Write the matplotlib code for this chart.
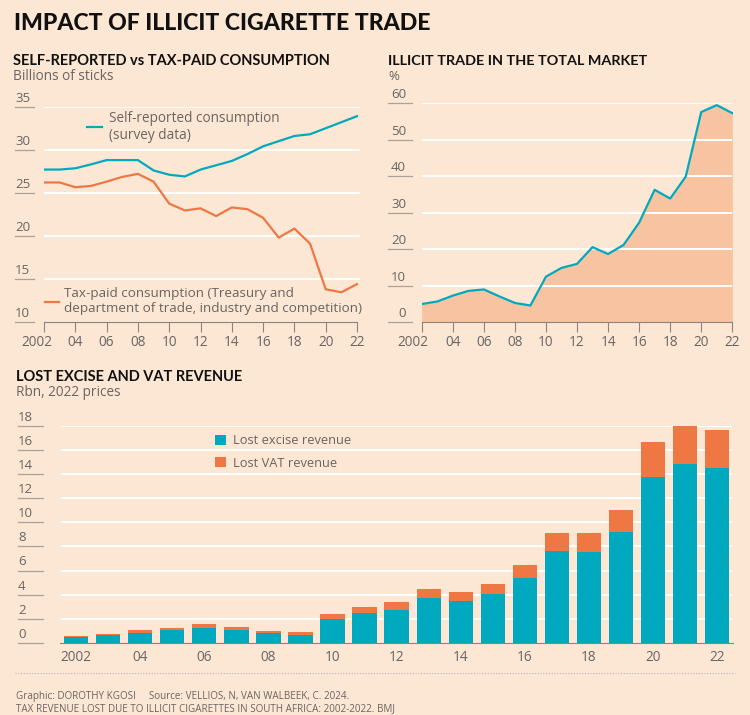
import numpy as np
import matplotlib
matplotlib.use("Agg")
import matplotlib.pyplot as plt
from matplotlib import transforms
from matplotlib.lines import Line2D

plt.rcParams['font.family'] = ['Open Sans', 'DejaVu Sans']

# Data
years = list(range(2002, 2023))
self_reported = [27.7, 27.7, 27.85, 28.3, 28.8, 28.8, 28.8, 27.6, 27.1, 26.9, 27.7,
                 28.2, 28.7, 29.5, 30.4, 31.0, 31.6, 31.8, 32.5, 33.2, 33.9]
tax_paid = [26.2, 26.2, 25.65, 25.8, 26.3, 26.85, 27.2, 26.3, 23.75, 22.95, 23.2,
            22.3, 23.3, 23.1, 22.1, 19.8, 20.85, 19.1, 13.8, 13.45, 14.4]
illicit_share = [5.0, 5.7, 7.3, 8.6, 9.0, 7.1, 5.3, 4.6, 12.5, 14.9, 16.0,
                 20.6, 18.7, 21.2, 27.3, 36.3, 33.9, 39.9, 57.6, 59.5, 57.3]
lost_excise = [0.47, 0.64, 0.86, 1.1, 1.27, 1.1, 0.8, 0.69, 2.0, 2.49, 2.76,
               3.7, 3.5, 4.09, 5.41, 7.65, 7.54, 9.2, 13.78, 14.86, 14.53]
lost_vat = [0.11, 0.08, 0.22, 0.17, 0.30, 0.23, 0.2, 0.19, 0.4, 0.49, 0.64,
            0.78, 0.7, 0.8, 1.08, 1.49, 1.6, 1.82, 2.85, 3.12, 3.12]

xtick_years = list(range(2002, 2023, 2))
xtick_labels = ["2002"] + [f"{y % 100:02d}" for y in xtick_years[1:]]
yticks_left = [10, 15, 20, 25, 30, 35]
yticks_right = [0, 10, 20, 30, 40, 50, 60]
yticks_bottom = list(range(0, 19, 2))

BG = "#FCE7D5"
TEAL = "#00A9BE"
ORANGE = "#EE7743"
AREA = "#F8C3A0"
GREY = "#8a8480"
TXT = "#6a6460"
DARK = "#111111"
HEAD = ['Lato', 'DejaVu Sans']

W, H = 750, 715
fig = plt.figure(figsize=(W / 100, H / 100), dpi=100, facecolor=BG)


def px_axes(left, top, right, bottom):
    ax = fig.add_axes([left / W, 1 - bottom / H, (right - left) / W, (bottom - top) / H])
    ax.set_facecolor(BG)
    for s in ax.spines.values():
        s.set_visible(False)
    return ax


def y_labels(ax, ticks, x0, x1, ha="left", xt=None):
    # tick labels sitting on short grey underlines left of the plot
    trans = transforms.blended_transform_factory(fig.transFigure, ax.transData)
    for v in ticks:
        ax.add_line(Line2D([x0 / W, x1 / W], [v, v], transform=trans, color="#a8a29d",
                           lw=0.9, clip_on=False))
        tx = (x0 if ha == "left" else xt) / W
        ax.annotate(str(v), xy=(tx, v), xycoords=trans, xytext=(0, 1.5),
                    textcoords="offset points", ha=ha, va="bottom", fontsize=9.5,
                    color=TXT)
    ax.set_yticks([])


def shift_first_label(ax, dx_px):
    lbl = ax.get_xticklabels()[0]
    lbl.set_transform(lbl.get_transform() +
                      transforms.ScaledTranslation(dx_px / 100, 0, fig.dpi_scale_trans))


# ---- title
fig.text(14 / W, 1 - 24 / H, "IMPACT OF ILLICIT CIGARETTE TRADE", fontsize=16.6,
         fontweight="black", color=DARK, va="center", ha="left", family=HEAD)

# ---- top left: self-reported vs tax-paid
ax1 = px_axes(44, 106.7, 360, 322)
step1 = (357.3 - 44.3) / 20
ax1.set_xlim(2002, 2002 + 316 / step1)
ax1.set_ylim(10, 35)
for v in yticks_left[1:]:
    ax1.axhline(v, color="white", lw=1.4, zorder=1)
ax1.spines["bottom"].set_visible(True)
ax1.spines["bottom"].set_color(GREY)
ax1.spines["bottom"].set_bounds(2002, 2022)
ax1.plot(years, self_reported, color=TEAL, lw=1.6, zorder=3)
ax1.plot(years, tax_paid, color=ORANGE, lw=1.6, zorder=3)
ax1.set_xticks(xtick_years)
ax1.set_xticklabels(xtick_labels)
ax1.tick_params(axis="x", length=7, color=GREY, labelsize=9.8, labelcolor=TXT, pad=2.5)
shift_first_label(ax1, -7.5)
y_labels(ax1, yticks_left, 15, 34)
fig.text(13 / W, 1 - 61 / H, "SELF-REPORTED vs TAX-PAID CONSUMPTION", fontsize=10.5,
         fontweight="bold", color=DARK, va="center", family=HEAD)
fig.text(13 / W, 1 - 76 / H, "Billions of sticks", fontsize=9.8, color=TXT, va="center")
fig.add_artist(Line2D([87 / W, 102 / W], [1 - 127 / H] * 2, color=TEAL, lw=1.6))
fig.text(109 / W, 1 - 127 / H, "Self-reported consumption\n(survey data)", fontsize=9.8,
         color=TXT, va="center", linespacing=1.15)
fig.add_artist(Line2D([45 / W, 59 / W], [1 - 301.5 / H] * 2, color=ORANGE, lw=1.6))
fig.text(64 / W, 1 - 301 / H,
         "Tax-paid consumption (Treasury and\ndepartment of trade, industry and competition)",
         fontsize=9.7, color=TXT, va="center", linespacing=1.15)

# ---- top right: illicit share
ax2 = px_axes(421.7, 103.3, 733, 322.3)
step2 = (732.3 - 421.7) / 20
ax2.set_xlim(2002, 2002 + (733 - 421.7) / step2)
ax2.set_ylim(0, 60)
ax2.fill_between(years, illicit_share, 0, color=AREA, lw=0, zorder=1)
for v in yticks_right[1:]:
    ax2.plot([2002.1, 2002 + (731 - 421.7) / step2], [v, v], color="white", lw=1.4, zorder=2)
ax2.plot(years, illicit_share, color=TEAL, lw=1.6, zorder=3)
ax2.spines["bottom"].set_visible(True)
ax2.spines["bottom"].set_color(GREY)
ax2.spines["bottom"].set_bounds(2002, 2022)
ax2.set_xticks(xtick_years)
ax2.set_xticklabels(xtick_labels)
ax2.tick_params(axis="x", length=7, color=GREY, labelsize=9.8, labelcolor=TXT, pad=2.5)
shift_first_label(ax2, -8.5)
y_labels(ax2, yticks_right, 388, 412, ha="right", xt=406)
fig.text(388 / W, 1 - 61 / H, "ILLICIT TRADE IN THE TOTAL MARKET", fontsize=10.4,
         fontweight="bold", color=DARK, va="center", family=HEAD)
fig.text(388 / W, 1 - 77 / H, "%", fontsize=9.5, color=TXT, va="center")

# ---- bottom: lost revenue bars
ax3 = px_axes(60, 425.7, 733, 643)
step3 = (717.3 - 76) / 20
ax3.set_xlim(2002 - (76 - 60) / step3, 2022 + (733 - 717.3) / step3)
ax3.set_ylim(0, 18)
for v in yticks_bottom[1:]:
    ax3.plot([2002 - (76 - 62) / step3, 2022 + (731 - 717.3) / step3], [v, v],
             color="white", lw=1.4, zorder=1)
ax3.bar(years, lost_excise, width=0.76, color=TEAL, zorder=2, label="Lost excise revenue")
ax3.bar(years, lost_vat, width=0.76, bottom=lost_excise, color=ORANGE, zorder=2,
        label="Lost VAT revenue")
ax3.spines["bottom"].set_visible(True)
ax3.spines["bottom"].set_color(GREY)
ax3.set_xticks(xtick_years)
ax3.set_xticklabels(xtick_labels)
ax3.tick_params(axis="x", length=0, labelsize=9.8, labelcolor=TXT, pad=5)
y_labels(ax3, yticks_bottom, 18, 43)
ax3.legend(loc="upper left", bbox_to_anchor=((210 - 60) / 673, (643 - 429) / 217.3),
           frameon=False, fontsize=9.3, labelcolor=TXT, handlelength=0.8,
           handleheight=0.8, handletextpad=0.6, labelspacing=0.75, borderaxespad=0)
fig.text(16 / W, 1 - 377 / H, "LOST EXCISE AND VAT REVENUE", fontsize=10.5,
         fontweight="bold", color=DARK, va="center", family=HEAD)
fig.text(16 / W, 1 - 393 / H, "Rbn, 2022 prices", fontsize=9.8, color=TXT, va="center")

# ---- footer
fig.add_artist(Line2D([15 / W, 735 / W], [1 - 673 / H] * 2, color="#b8b0aa", lw=0.8,
                      linestyle=(0, (1, 1.5))))
fig.text(16 / W, 1 - 697 / H,
         "Graphic: DOROTHY KGOSI     Source: VELLIOS, N, VAN WALBEEK, C. 2024.",
         fontsize=7.1, color=TXT, va="center")
fig.text(16 / W, 1 - 708.5 / H,
         "TAX REVENUE LOST DUE TO ILLICIT CIGARETTES IN SOUTH AFRICA: 2002-2022. BMJ",
         fontsize=7.1, color=TXT, va="center")

fig.savefig("out.png", dpi=100, facecolor=BG)
